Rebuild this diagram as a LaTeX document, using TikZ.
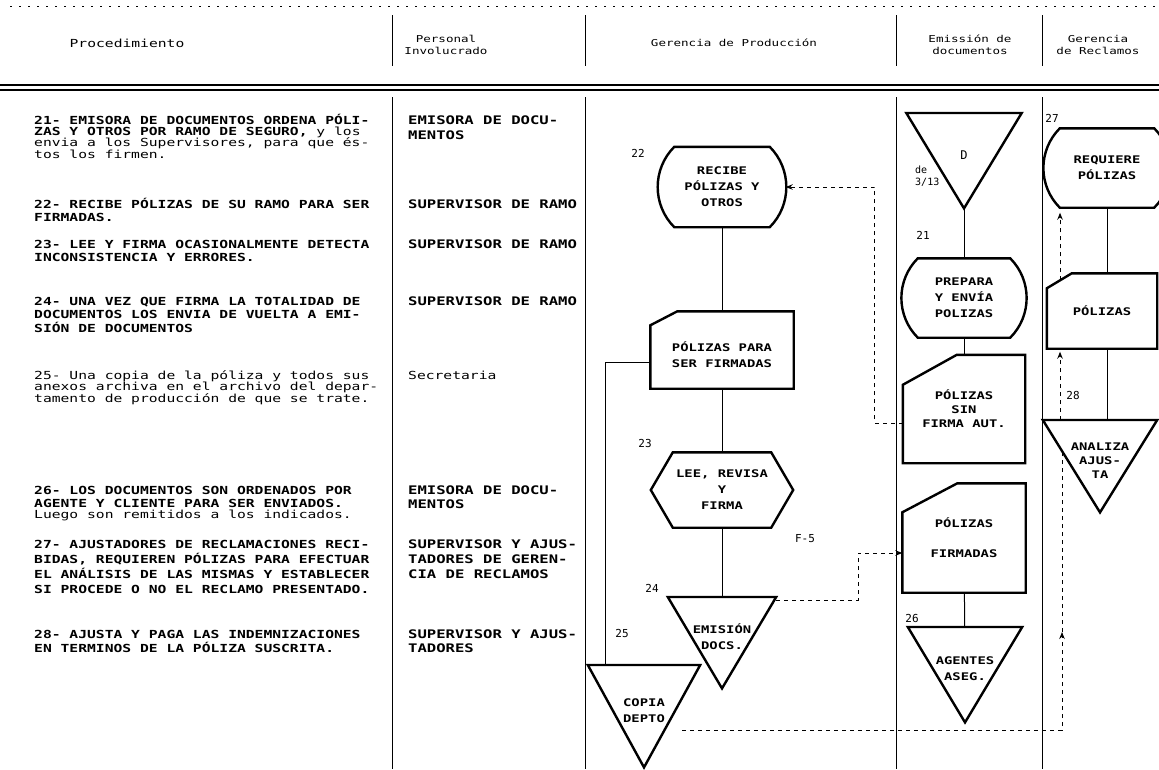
\documentclass[tikz,border=0pt]{standalone}
\usepackage{fontspec}
\newfontfamily\dotfont[FakeStretch=1.32]{DejaVu Sans Mono}
\newfontfamily\numfont{DejaVu Sans Mono}
\usetikzlibrary{arrows.meta}
\setlength{\lineskiplimit}{-100pt}
\newcommand{\capstrut}{\rule{0pt}{10pt}}

\tikzset{
  rule/.style={line width=0.9pt},
  flow/.style={line width=1pt},
  link/.style={line width=1pt, dash pattern=on 4pt off 4pt},
  outline/.style={line width=2.4pt},
  head/.style={font=\dotfont\fontsize{9.5}{12}\selectfont, align=center, inner sep=0pt},
  body/.style={font=\dotfont\fontsize{11.1}{#1}\selectfont, align=left, anchor=north west, inner sep=0pt},
  body/.default=13,
  caps/.style={body=#1, font=\dotfont\bfseries\fontsize{11.1}{#1}\selectfont},
  caps/.default=13,
  staff/.style={caps=#1, font=\dotfont\bfseries\fontsize{11.8}{#1}\selectfont},
  staff/.default=13,
  num/.style={font=\numfont\fontsize{11}{12}\selectfont, inner sep=0pt},
  shapetxt/.style={font=\dotfont\bfseries\fontsize{10.5}{16}\selectfont, align=center, inner sep=0pt},
  % rounded sides: receive / prepare
  termbox/.style 2 args={shapetxt, minimum width=#1, minimum height=#2,
    append after command={\pgfextra{\draw[outline] (\tikzlastnode.north east) -- (\tikzlastnode.north west)
      to[bend right=45] (\tikzlastnode.south west) -- (\tikzlastnode.south east)
      to[bend right=45] (\tikzlastnode.north east) -- cycle;}}},
  % document card with cut corner
  cardbox/.style n args={4}{shapetxt, minimum width=#1, minimum height=#2,
    append after command={\pgfextra{\draw[outline] ([xshift=#3]\tikzlastnode.north west) -- (\tikzlastnode.north east)
      -- (\tikzlastnode.south east) -- (\tikzlastnode.south west) -- ([yshift=-#4]\tikzlastnode.north west) -- cycle;}}},
  hexbox/.style 2 args={shapetxt, minimum width=#1, minimum height=#2,
    append after command={\pgfextra{\draw[outline] (\tikzlastnode.north west) -- (\tikzlastnode.north east)
      -- ([xshift=22pt]\tikzlastnode.east) -- (\tikzlastnode.south east) -- (\tikzlastnode.south west)
      -- ([xshift=-22pt]\tikzlastnode.west) -- cycle;}}},
  % inverted triangle
  mergebox/.style 2 args={shapetxt, minimum width=#1, minimum height=#2, anchor=north,
    append after command={\pgfextra{\draw[outline] (\tikzlastnode.north west) -- (\tikzlastnode.north east)
      -- ([yshift=-12pt]\tikzlastnode.south) -- cycle;}}},
}

\begin{document}
\begin{tikzpicture}[x=1pt,y=-1pt,>={Stealth[length=7pt,width=5.5pt]}]
	\path[use as bounding box, fill=white] (0,0) rectangle (1159,769);

	% Header
	\draw[rule, dash pattern=on 2pt off 7pt] (10,6) -- (1159,6);
	\draw[line width=1.8pt] (0,85) -- (1159,85);
	\draw[line width=1.1pt] (0,90) -- (1159,90);
	\foreach \cx in {392,585,896,1042} {
		\draw[rule] (\cx,15) -- (\cx,66);
		\draw[rule] (\cx,97) -- (\cx,769);
	}
	\node[head, font=\dotfont\fontsize{11.1}{12}\selectfont] (hproc) at (127,43) {Procedimiento};
	\node[head] (hpers) at (446,45) {Personal\\Involucrado};
	\node[head] (hprod) at (734,43) {Gerencia de Producción};
	\node[head] (hemis) at (970,45) {Emissión de\\documentos};
	\node[head] (hrecl) at (1098,45) {Gerencia\\de Reclamos};

	% Procedimiento
	\node[caps=11.2] (proc21) at (34,114) {\capstrut 21- EMISORA DE DOCUMENTOS ORDENA PÓLI-\\ZAS Y OTROS POR RAMO DE SEGURO, \mdseries y los\\\mdseries envia a los Supervisores, para que és-\\\mdseries tos los firmen.};
	\node[caps=13.5] (proc22) at (34,198) {\capstrut 22- RECIBE PÓLIZAS DE SU RAMO PARA SER\\FIRMADAS.};
	\node[caps=13.5] (proc23) at (34,238) {\capstrut 23- LEE Y FIRMA OCASIONALMENTE DETECTA\\INCONSISTENCIA Y ERRORES.};
	\node[caps=13.5] (proc24) at (34,295) {\capstrut 24- UNA VEZ QUE FIRMA LA TOTALIDAD DE\\DOCUMENTOS LOS ENVIA DE VUELTA A EMI-\\SIÓN DE DOCUMENTOS};
	\node[body=11.5] (proc25) at (34,369) {\capstrut 25- Una copia de la póliza y todos sus\\anexos archiva en el archivo del depar-\\tamento de producción de que se trate.};
	\node[caps=13.5] (proc26) at (34,484) {\capstrut 26- LOS DOCUMENTOS SON ORDENADOS POR\\AGENTE Y CLIENTE PARA SER ENVIADOS.\\[-3pt]\mdseries Luego son remitidos a los indicados.};
	\node[caps=15] (proc27) at (34,538) {\capstrut 27- AJUSTADORES DE RECLAMACIONES RECI-\\BIDAS, REQUIEREN PÓLIZAS PARA EFECTUAR\\EL ANÁLISIS DE LAS MISMAS Y ESTABLECER\\SI PROCEDE O NO EL RECLAMO PRESENTADO.};
	\node[caps=14] (proc28) at (34,628) {\capstrut 28- AJUSTA Y PAGA LAS INDEMNIZACIONES\\EN TERMINOS DE LA PÓLIZA SUSCRITA.};

	% Personal involucrado
	\node[staff=15.5] (pers21) at (408,114) {\capstrut EMISORA DE DOCU-\\MENTOS};
	\node[staff] (pers22) at (408,198) {\capstrut SUPERVISOR DE RAMO};
	\node[staff] (pers23) at (408,238) {\capstrut SUPERVISOR DE RAMO};
	\node[staff] (pers24) at (408,295) {\capstrut SUPERVISOR DE RAMO};
	\node[body] (pers25) at (408,369) {\capstrut Secretaria};
	\node[staff=14] (pers26) at (408,484) {\capstrut EMISORA DE DOCU-\\MENTOS};
	\node[staff=15] (pers27) at (408,538) {\capstrut SUPERVISOR Y AJUS-\\TADORES DE GEREN-\\CIA DE RECLAMOS};
	\node[staff=14] (pers28) at (408,628) {\capstrut SUPERVISOR Y AJUS-\\TADORES};

	% Gerencia de Produccion
	\node[termbox={95pt}{80pt}] (recibe) at (722,187) {RECIBE\\PÓLIZAS Y\\OTROS};
	\node[cardbox={143pt}{77pt}{27pt}{14pt}] (parafirma) at (722,350) {\mbox{}\\[4pt]PÓLIZAS PARA\\SER FIRMADAS};
	\node[hexbox={98pt}{75pt}] (leefirma) at (722,490) {LEE, REVISA\\Y\\FIRMA};
	\node[mergebox={108pt}{79pt}] (emision) at (722,597) {EMISIÓN\\DOCS.};
	\node[mergebox={112pt}{90pt}] (copia) at (644,665) {COPIA\\DEPTO};
	\node[num] (n22) at (638,153) {22};
	\node[num] (n23) at (645,443) {23};
	\node[num] (n24) at (652,588) {24};
	\node[num] (n25) at (622,633) {25};
	\node[num] (f5) at (805,539) {F-5};

	% Emision de documentos
	\node[mergebox={115pt}{83pt}, font=\numfont\fontsize{12}{12}\selectfont] (docD) at (964,113) {D};
	\node[num, align=left, anchor=west, font=\numfont\fontsize{10}{12}\selectfont] (de313) at (915,176) {de\\3/13};
	\node[num] (n21) at (923,235) {21};
	\node[termbox={92pt}{79pt}] (prepara) at (964,298) {PREPARA\\Y ENVÍA\\POLIZAS};
	\node[cardbox={122pt}{108pt}{54pt}{30pt}] (sinfirma) at (964,409) {PÓLIZAS\\[-2pt]SIN\\[-2pt]FIRMA AUT.};
	\node[cardbox={123pt}{109pt}{55pt}{29pt}] (firmadas) at (964,538) {PÓLIZAS\\[14pt]FIRMADAS};
	\node[mergebox={114pt}{83pt}] (agentes) at (965,627) {AGENTES\\ASEG.};
	\node[num] (n26) at (912,618) {26};

	% Gerencia de Reclamos
	\node[termbox={94pt}{79pt}] (requiere) at (1107,168) {REQUIERE\\PÓLIZAS};
	\node[cardbox={110pt}{75pt}{25pt}{15pt}] (polizas) at (1102,311) {PÓLIZAS};
	\node[mergebox={114pt}{80pt}] (analiza) at (1100,420) {ANALIZA\\[-2pt]AJUS-\\[-2pt]TA};
	\node[num] (n27) at (1052,118) {27};
	\node[num] (n28) at (1073,395) {28};

	% Solid flow lines
	\draw[flow] (recibe) -- (parafirma);
	\draw[flow] (parafirma) -- (leefirma);
	\draw[flow] (leefirma) -- (emision);
	\draw[flow] ([yshift=-12pt]parafirma.west) -| ([xshift=-39pt]copia.north);
	\draw[flow] ([yshift=-12pt]docD.south) -- (prepara);
	\draw[flow] (prepara) -- (sinfirma);
	\draw[flow] (firmadas) -- (agentes);
	\draw[flow] (requiere.south) -- (requiere.south |- polizas.north);
	\draw[flow] (requiere.south |- polizas.south) -- (requiere.south |- analiza.north);

	% Dashed document flows
	\coordinate (upA) at (1062,632);
	\coordinate (endA) at (1062,451);
	\draw[link,->] ([yshift=-14pt]sinfirma.west) -- ++(-28,0) |- ([xshift=16pt]recibe.east);
	\draw[link,->] ([yshift=-3pt]emision.north east) -- ++(82,0) |- ([yshift=-15pt]firmadas.west);
	\draw[link,->] ([xshift=-18pt,yshift=-20pt]copia.east) -| (upA);
	\draw[link] (upA) -- (endA);
	\draw[link,->,shorten >=3pt] ([xshift=-40pt]analiza.north) -- ([xshift=-42pt]polizas.south);
	\draw[link,->,shorten >=5pt] ([xshift=-42pt,yshift=-7pt]polizas.north) -- ([xshift=-47pt]requiere.south);
\end{tikzpicture}
\end{document}
